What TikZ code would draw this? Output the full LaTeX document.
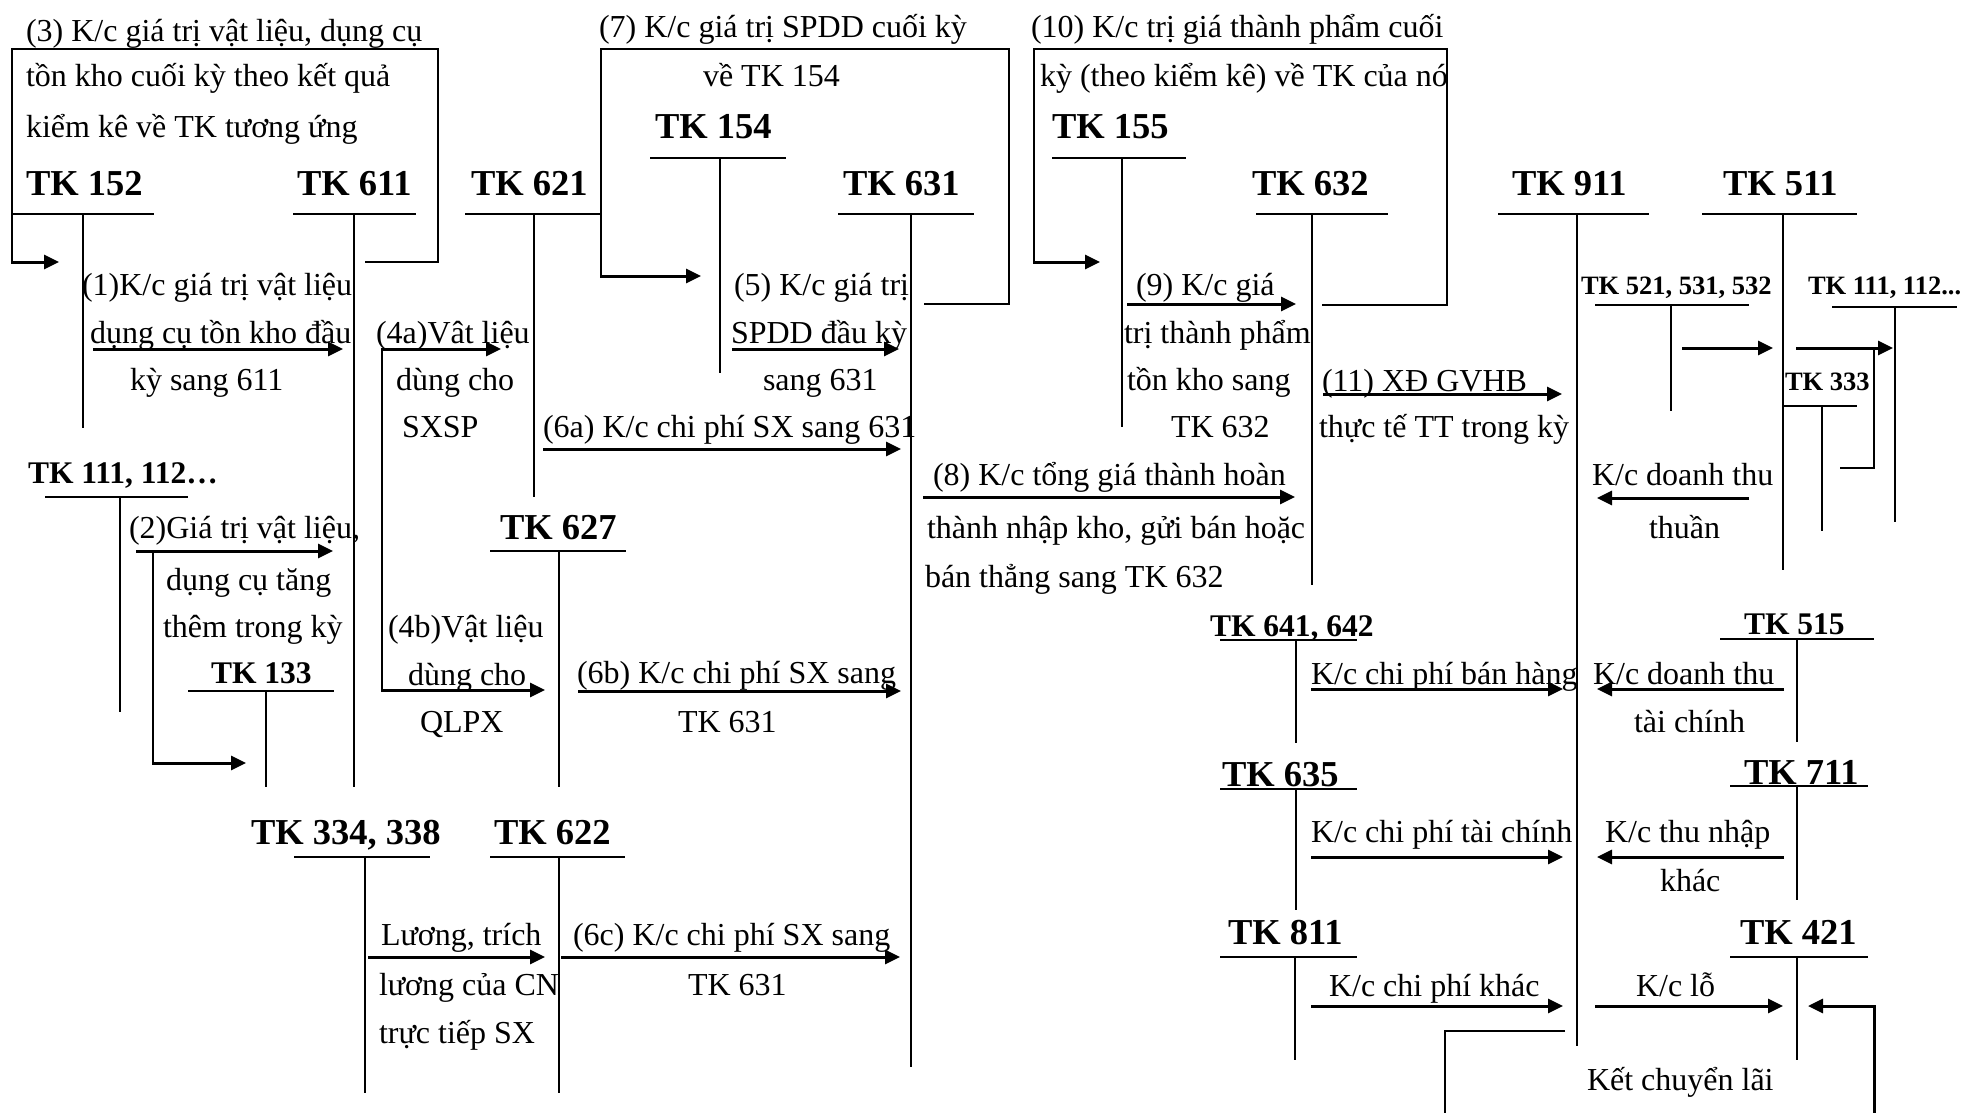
\documentclass[tikz,border=0pt]{standalone}
\usepackage{fontspec}
\setmainfont{Liberation Serif}
\usetikzlibrary{arrows.meta}
\begin{document}
\begin{tikzpicture}[x=1pt,y=-1pt,
  txt/.style={anchor=base west,inner sep=0pt,outer sep=0pt,font=\fontsize{32}{38}\selectfont},
  tkbig/.style={anchor=base west,inner sep=0pt,outer sep=0pt,font=\fontsize{36.5}{40}\selectfont\bfseries},
  tkmid/.style={anchor=base west,inner sep=0pt,outer sep=0pt,font=\fontsize{31.5}{36}\selectfont\bfseries},
  tksmall/.style={anchor=base west,inner sep=0pt,outer sep=0pt,font=\fontsize{26.5}{30}\selectfont\bfseries},
  tline/.style={line width=2pt},
  vline/.style={line width=1.3pt},
  flow/.style={line width=3pt,-{Triangle[length=15pt,width=14pt]}},
  frame/.style={line width=2.5pt},
]
\useasboundingbox[fill=white] (0,0) rectangle (1970,1113);

% ---------- account headings ----------
\node[tkbig] (h152) at (26,195) {TK 152};
\node[tkbig] (h611) at (297,195) {TK 611};
\node[tkbig] (h621) at (471,195) {TK 621};
\node[tkbig] (h154) at (655,139) {TK 154};
\node[tkbig] (h631) at (843,195) {TK 631};
\node[tkbig] (h155) at (1052,139) {TK 155};
\node[tkbig] (h632) at (1252,195) {TK 632};
\node[tkbig] (h911) at (1512,195) {TK 911};
\node[tkbig] (h511) at (1723,195) {TK 511};
\node[tkbig] (h627) at (500,539) {TK 627};
\node[tkbig] (h334) at (251,844) {TK 334, 338};
\node[tkbig] (h622) at (494,844) {TK 622};
\node[tkbig] (h635) at (1222,786) {TK 635};
\node[tkbig] (h711) at (1744,784) {TK 711};
\node[tkbig] (h811) at (1228,944) {TK 811};
\node[tkbig] (h421) at (1740,944) {TK 421};
\node[tkmid] (h111a) at (28,483) {TK 111, 112…};
\node[tkmid] (h133) at (211,683) {TK 133};
\node[tkmid] (h641) at (1210,636) {TK 641, 642};
\node[tkmid] (h515) at (1744,634) {TK 515};
\node[tksmall] (h521) at (1581,294) {TK 521, 531, 532};
\node[tksmall] (h111b) at (1808,294) {TK 111, 112...};
\node[tksmall] (h333) at (1785,390) {TK 333};

% ---------- T accounts: heading line and vertical ----------
\foreach \l/\r/\ty/\vx/\vb in {
   12/154/214/83/428,      % 152
   293/416/214/354/787,    % 611
   465/602/214/534/497,    % 621
   650/786/158/720/373,    % 154
   838/974/214/911/1067,   % 631
   1052/1186/158/1122/427, % 155
   1256/1388/214/1312/585, % 632
   1498/1649/214/1577/1046,% 911
   1702/1857/214/1783/570, % 511
   45/188/497/120/712,     % 111,112 (left)
   188/334/691/266/787,    % 133
   490/626/551/559/787,    % 627
   294/430/857/365/1093,   % 334,338
   490/625/857/559/1093,   % 622
   1595/1749/305/1671/411, % 521,531,532
   1832/1957/307/1895/522, % 111,112 (right)
   1783/1857/406/1822/531, % 333
   1220/1357/640/1296/743, % 641,642
   1720/1874/639/1797/742, % 515
   1220/1357/789/1296/910, % 635
   1730/1868/786/1797/900, % 711
   1220/1357/957/1295/1060,% 811
   1730/1868/957/1797/1060 % 421
  }{
  \draw[tline] (\l,\ty) -- (\r,\ty);
  \draw[vline] (\vx,\ty) -- (\vx,\vb);
}

% ---------- closing-stock frames ----------
\node[txt] (n3a) at (26,42) {(3) K/c giá trị vật liệu, dụng cụ};
\node[txt] (n3b) at (26,87) {tồn kho cuối kỳ theo kết quả};
\node[txt] (n3c) at (26,138) {kiểm kê về TK tương ứng};
\draw[frame] (365,262) -- (438,262) -- (438,49) -- (12,49) -- (12,262);
\draw[flow] (11,262) -- (59,262);

\node[txt] (n7a) at (599,38) {(7) K/c giá trị SPDD cuối kỳ};
\node[txt] (n7b) at (703,87) {về TK 154};
\draw[frame] (924,304) -- (1009,304) -- (1009,49) -- (601,49) -- (601,276);
\draw[flow] (600,276) -- (701,276);

\node[txt] (n10a) at (1031,38) {(10) K/c trị giá thành phẩm cuối};
\node[txt] (n10b) at (1040,87) {kỳ (theo kiểm kê) về TK của nó};
\draw[frame] (1322,305) -- (1447,305) -- (1447,49) -- (1034,49) -- (1034,262);
\draw[flow] (1033,262) -- (1100,262);

% ---------- production side ----------
\node[txt] (n1a) at (82,295) {(1)K/c giá trị vật liệu};
\node[txt] (n1b) at (90,343) {dụng cụ tồn kho đầu};
\node[txt] (n1c) at (130,390) {kỳ sang 611};
\draw[flow] (93,349) -- (343,349);

\node[txt] (n4a) at (376,343) {(4a)Vât liệu};
\node[txt] (n4b) at (396,390) {dùng cho};
\node[txt] (n4c) at (402,437) {SXSP};
\draw[line width=2pt] (382,690) -- (382,349);
\draw[flow] (381,349) -- (501,349);
\draw[flow] (381,690) -- (545,690);
\node[txt] (n4d) at (388,637) {(4b)Vật liệu};
\node[txt] (n4e) at (408,685) {dùng cho};
\node[txt] (n4f) at (420,732) {QLPX};

\node[txt] (n5a) at (734,295) {(5) K/c giá trị};
\node[txt] (n5b) at (731,343) {SPDD đầu kỳ};
\node[txt] (n5c) at (763,390) {sang 631};
\draw[flow] (732,349) -- (899,349);

\node[txt] (n6a) at (543,437) {(6a) K/c chi phí SX sang 631};
\draw[flow] (543,449) -- (901,449);

\node[txt] (n2a) at (129,538) {(2)Giá trị vật liệu,};
\node[txt] (n2b) at (166,590) {dụng cụ tăng};
\node[txt] (n2c) at (163,637) {thêm trong kỳ};
\draw[flow] (136,551) -- (333,551);
\draw[line width=2pt] (153,551) -- (153,763);
\draw[flow] (152,763) -- (246,763);

\node[txt] (n6b) at (577,683) {(6b) K/c chi phí SX sang};
\node[txt] (n6b2) at (678,732) {TK 631};
\draw[flow] (578,691) -- (901,691);

\node[txt] (nla) at (381,945) {Lương, trích};
\node[txt] (nlb) at (379,995) {lương của CN};
\node[txt] (nlc) at (379,1043) {trực tiếp SX};
\draw[flow] (368,957) -- (545,957);

\node[txt] (n6c) at (573,945) {(6c) K/c chi phí SX sang};
\node[txt] (n6c2) at (688,995) {TK 631};
\draw[flow] (561,957) -- (900,957);

% ---------- finished goods and cost of sales ----------
\node[txt] (n8a) at (933,485) {(8) K/c tổng giá thành hoàn};
\node[txt] (n8b) at (927,538) {thành nhập kho, gửi bán hoặc};
\node[txt] (n8c) at (925,587) {bán thẳng sang TK 632};
\draw[flow] (923,497) -- (1295,497);

\node[txt] (n9a) at (1136,295) {(9) K/c giá};
\node[txt] (n9b) at (1124,343) {trị thành phẩm};
\node[txt] (n9c) at (1127,390) {tồn kho sang};
\node[txt] (n9d) at (1171,437) {TK 632};
\draw[flow] (1127,304) -- (1296,304);

\node[txt] (n11a) at (1322,391) {(11) XĐ GVHB};
\node[txt] (n11b) at (1319,437) {thực tế TT trong kỳ};
\draw[flow] (1323,394) -- (1562,394);

% ---------- revenue side ----------
\draw[flow] (1682,348) -- (1773,348);
\draw[flow] (1796,348) -- (1893,348);
\draw[line width=2pt] (1840,468) -- (1874,468) -- (1874,348);
\node[txt] (ndt1) at (1592,485) {K/c doanh thu};
\node[txt] (ndt2) at (1649,538) {thuần};
\draw[flow] (1749,498) -- (1597,498);

% ---------- period result ----------
\node[txt] (nbh) at (1311,684) {K/c chi phí bán hàng};
\draw[flow] (1311,689) -- (1563,689);
\node[txt] (ntc1) at (1593,684) {K/c doanh thu};
\node[txt] (ntc2) at (1634,732) {tài chính};
\draw[flow] (1784,689) -- (1597,689);

\node[txt] (ncp) at (1311,842) {K/c chi phí tài chính};
\draw[flow] (1311,857) -- (1563,857);
\node[txt] (ntn1) at (1605,842) {K/c thu nhập};
\node[txt] (ntn2) at (1660,891) {khác};
\draw[flow] (1784,857) -- (1597,857);

\node[txt] (nck) at (1329,996) {K/c chi phí khác};
\draw[flow] (1311,1006) -- (1563,1006);
\node[txt] (nlo) at (1636,996) {K/c lỗ};
\draw[flow] (1595,1006) -- (1783,1006);

\draw[flow] (1874,1114) -- (1874,1006) -- (1808,1006);
\draw[frame] (1565,1031) -- (1445,1031) -- (1445,1114);
\node[txt] (nlai) at (1587,1090) {Kết chuyển lãi};
\end{tikzpicture}
\end{document}
